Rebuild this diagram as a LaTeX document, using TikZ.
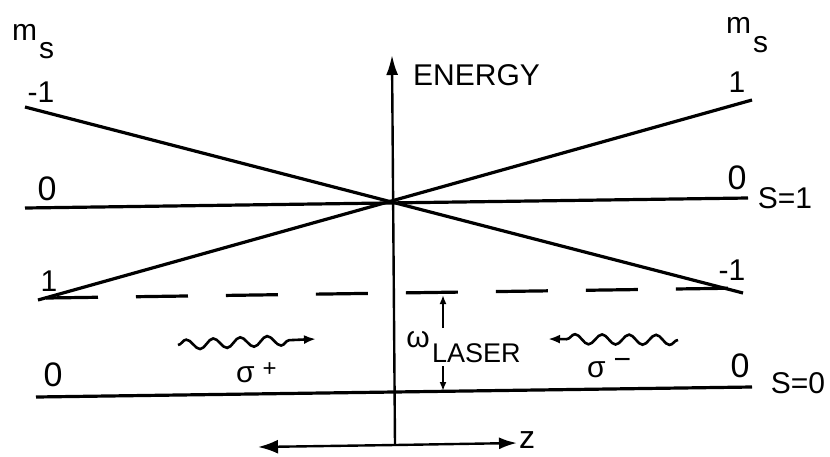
\documentclass[tikz,border=0pt]{standalone}
\usepackage{fontspec}
\setmainfont{Liberation Sans}
\usetikzlibrary{arrows.meta,decorations.pathmorphing}
\begin{document}
\begin{tikzpicture}[x=1pt,y=-1pt,
  level/.style={line width=3.2pt},
  axisline/.style={line width=2.4pt},
  lbl/.style={inner sep=0pt,font=\fontsize{30}{32}\selectfont},
  big/.style={inner sep=0pt,font=\fontsize{34}{36}\selectfont},
  wave/.style={line width=2.6pt, decorate, decoration={snake,amplitude=5pt,segment length=27pt,post length=14pt}, -{Latex[length=12pt,width=9pt]}},
 ]
\useasboundingbox (0,0) rectangle (830,456);
% end points of the levels
\coordinate (Lm1) at (25,107); \coordinate (Rm1) at (743,293);
\coordinate (Lp1) at (38,300); \coordinate (Rp1) at (752,100);
\coordinate (L0) at (25,208);  \coordinate (R0) at (748,198);
\coordinate (LS0) at (36,397); \coordinate (RS0) at (752,387);
\coordinate (Ld) at (46,298);  \coordinate (Rd) at (745,288);
\coordinate (Ab) at (395,445); \coordinate (At) at (392,55);
\coordinate (Zl) at (258,447); \coordinate (Zr) at (517,443);
\coordinate (w1) at (443,328); \coordinate (w1t) at (443,295);
\coordinate (w2) at (443,366); \coordinate (w2t) at (443,391);
\coordinate (wpA) at (178,345); \coordinate (wpB) at (316,339);
\coordinate (wmA) at (678,340); \coordinate (wmB) at (548,339);

\draw[level] (Lm1) -- (Rm1);
\draw[level] (Lp1) -- (Rp1);
\draw[level] (L0) -- (R0);
\draw[level] (LS0) -- (RS0);
\draw[level, dash pattern=on 52pt off 38pt] (Ld) -- (Rd);
\draw[axisline, -{Latex[length=20pt,width=12pt]}] (Ab) -- (At);
\draw[axisline, -{Latex[length=20pt,width=14pt]}] (Ab) -- (Zl);
\draw[axisline, -{Latex[length=18pt,width=12pt]}] (Ab) -- (Zr);
\draw[axisline, -{Latex[length=9pt,width=7pt]}] (w1) -- (w1t);
\draw[axisline, -{Latex[length=9pt,width=7pt]}] (w2) -- (w2t);
\draw[wave] (wpA) -- (wpB);
\draw[wave] (wmA) -- (wmB);

\node[lbl, anchor=base west] (msL) at (12,40) {m\hspace{2pt}\raisebox{-18pt}{s}};
\node[lbl, anchor=base west] (msR) at (726,33) {m\hspace{2pt}\raisebox{-19pt}{s}};
\node[lbl] (lm1) at (41,92) {-1};
\node[lbl] (rp1) at (737,82) {1};
\node[big] (l0) at (47,189) {0};
\node[big] (r0) at (737,178) {0};
\node[lbl] (s1) at (785,198) {S=1};
\node[lbl] (lp1) at (49,281) {1};
\node[lbl] (rm1) at (732,270) {-1};
\node[big] (ls0) at (53,375) {0};
\node[big] (rs0) at (740,366) {0};
\node[lbl] (s0) at (798,383) {S=0};
\node[lbl, anchor=base west] (en) at (413,85) {ENERGY};
\node[lbl] (om) at (418,340) {ω};
\node[font=\fontsize{27}{29}\selectfont, inner sep=0pt, anchor=base west] (las) at (432,362) {LASER};
\node[lbl, anchor=base west] (sp) at (236,382) {σ\hspace{8pt}\raisebox{6pt}{\fontsize{24}{24}\selectfont +}};
\node[lbl, anchor=base west] (sm) at (587,377) {σ\hspace{8pt}\raisebox{8pt}{−}};
\node[font=\fontsize{32}{32}\selectfont, inner sep=0pt, anchor=west] (z) at (519,440) {z};
\end{tikzpicture}
\end{document}
